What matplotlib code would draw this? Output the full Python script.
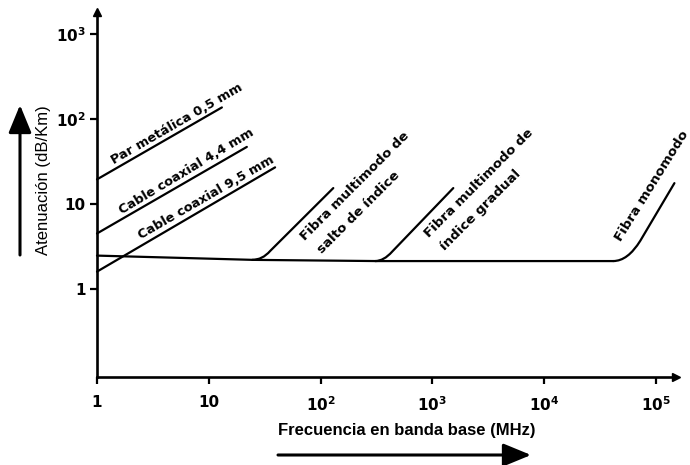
import matplotlib
matplotlib.use("Agg")
import matplotlib.pyplot as plt
from matplotlib.path import Path
from matplotlib.patches import PathPatch
from matplotlib.ticker import FixedLocator, NullLocator

# Attenuation (dB/Km) versus base-band frequency (MHz)
par_f = [1, 13.1]
par_a = [19.5, 137]

coax44_f = [1, 21.9]
coax44_a = [4.5, 47]

coax95_f = [1, 39.2]
coax95_a = [1.6, 27]

# common low-frequency floor of the optical fibres
base_f = [1, 25, 320, 41500]
base_a = [2.47, 2.2, 2.13, 2.13]

# fibre branches: knee start, knee corner, knee end, top of the rise
salto_f = [24.5, 30.2, 35.4, 130]
salto_a = [2.2, 2.2, 2.8, 15.4]

gradual_f = [308, 368, 437, 1540]
gradual_a = [2.13, 2.13, 2.75, 15.4]

mono_f = [41500, 56000, 72600, 146500]
mono_a = [2.13, 2.13, 3.7, 17.6]

x_ticks = [1, 10, 1e2, 1e3, 1e4, 1e5]
x_tick_labels = ["1", "10", "10$^2$", "10$^3$", "10$^4$", "10$^5$"]
y_ticks = [1, 10, 1e2, 1e3]
y_tick_labels = ["1", "10", "10$^2$", "10$^3$"]

plt.rcParams["mathtext.default"] = "regular"

fig = plt.figure(figsize=(6.9, 4.65), dpi=100)
ax = fig.add_axes([97 / 690, 1 - 377 / 465, (676 - 97) / 690, (377 - 12) / 465])
ax.set_xscale("log")
ax.set_yscale("log")
ax.set_xlim(1, 10 ** 5.18)
ax.set_ylim(0.092, 1820)

lw = 1.6
for f, a in [(par_f, par_a), (coax44_f, coax44_a), (coax95_f, coax95_a),
             (base_f, base_a)]:
    ax.plot(f, a, color="black", lw=lw, solid_capstyle="round",
            solid_joinstyle="round", clip_on=False)

# rounded knee (quadratic Bezier) followed by the straight rise
knee_codes = [Path.MOVETO, Path.CURVE3, Path.CURVE3, Path.LINETO]
for f, a in [(salto_f, salto_a), (gradual_f, gradual_a), (mono_f, mono_a)]:
    path = Path(list(zip(f, a)), knee_codes)
    ax.add_patch(PathPatch(path, facecolor="none", edgecolor="black", lw=lw,
                           capstyle="round", joinstyle="round", clip_on=False))

# axes: only left and bottom, with arrow heads
for s in ("top", "right"):
    ax.spines[s].set_visible(False)
for s in ("left", "bottom"):
    ax.spines[s].set_linewidth(1.9)
ax.plot(1, 0, marker=">", color="black", ms=6, transform=ax.transAxes, clip_on=False)
ax.plot(0, 1, marker="^", color="black", ms=6, transform=ax.transAxes, clip_on=False)

ax.xaxis.set_major_locator(FixedLocator(x_ticks))
ax.yaxis.set_major_locator(FixedLocator(y_ticks))
ax.xaxis.set_minor_locator(NullLocator())
ax.yaxis.set_minor_locator(NullLocator())
ax.set_xticklabels(x_tick_labels)
ax.set_yticklabels(y_tick_labels)
ax.tick_params(axis="both", which="major", length=5, width=1.6, direction="out",
               labelsize=11)
ax.tick_params(axis="x", pad=8)
ax.tick_params(axis="y", pad=3)
for lab in ax.get_xticklabels() + ax.get_yticklabels():
    lab.set_fontweight("bold")

# curve labels
lab_kw = dict(fontsize=9.3, fontweight="bold", family="DejaVu Sans",
              rotation_mode="anchor")
ax.text(5.2, 87, "Par metálica 0,5 mm", rotation=30, ha="center", va="center", **lab_kw)
ax.text(6.26, 24.4, "Cable coaxial 4,4 mm", rotation=31, ha="center", va="center", **lab_kw)
ax.text(9.46, 11.8, "Cable coaxial 9,5 mm", rotation=30, ha="center", va="center", **lab_kw)

fib_kw = dict(fontsize=9.6, fontweight="bold", family="DejaVu Sans",
              rotation_mode="anchor", ha="left", va="baseline")
ax.text(72, 3.67, "Fibra multimodo de", rotation=45, **fib_kw)
ax.text(102, 2.58, "salto de índice", rotation=45, **fib_kw)
ax.text(940, 3.98, "Fibra multimodo de", rotation=45, **fib_kw)
ax.text(1300, 2.8, "índice gradual", rotation=45, **fib_kw)
ax.text(49000, 3.6, "Fibra monomodo", rotation=58, clip_on=False, **fib_kw)

# axis titles with direction arrows
fig.text(44 / 690, 1 - 180 / 465, "Atenuación (dB/Km)", rotation=90,
         ha="center", va="center", fontsize=12, family="Liberation Sans")
fig.text(407 / 690, 1 - 430 / 465, "Frecuencia en banda base (MHz)",
         ha="center", va="center", fontsize=12, fontweight="bold",
         family=["Liberation Sans Narrow", "Liberation Sans"])

arrow_style = "-|>,head_length=1.7,head_width=0.7"
ax.annotate("", xy=(20, 465 - 105), xycoords="figure pixels",
            xytext=(20, 465 - 255), textcoords="figure pixels",
            arrowprops=dict(arrowstyle=arrow_style, lw=2.2, color="black",
                            shrinkA=0, shrinkB=0))
ax.annotate("", xy=(531, 465 - 455), xycoords="figure pixels",
            xytext=(278, 465 - 455), textcoords="figure pixels",
            arrowprops=dict(arrowstyle=arrow_style, lw=2.2, color="black",
                            shrinkA=0, shrinkB=0))

fig.savefig("out.png", dpi=100)
